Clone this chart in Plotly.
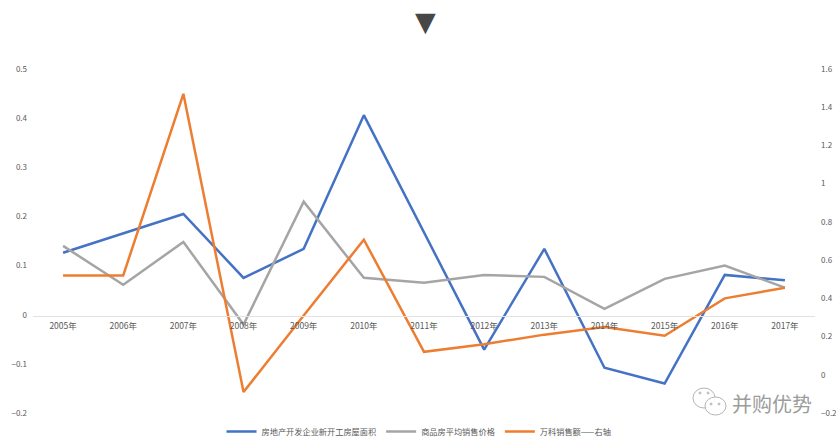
import plotly.graph_objects as go

W, H = 836, 437
years = ["2005年","2006年","2007年","2008年","2009年","2010年","2011年","2012年","2013年","2014年","2015年","2016年","2017年"]
new_area = [0.126,0.165,0.205,0.075,0.134,0.406,0.169,-0.071,0.134,-0.108,-0.140,0.081,0.070]
avg_price = [0.140,0.061,0.148,-0.020,0.230,0.075,0.065,0.081,0.077,0.012,0.073,0.100,0.055]
vanke_sales = [0.52,0.52,1.47,-0.09,0.31,0.707,0.12,0.16,0.21,0.25,0.204,0.40,0.455]
names = ["房地产开发企业新开工房屋面积","商品房平均销售价格","万科销售额——右轴"]
colors = ["#4472C4","#A5A5A5","#ED7D31"]
FONT = "Noto Sans CJK SC"
TICK = "#595959"

top, bottom, left, right = 69, 413, 33, 815
fig = go.Figure()
fig.add_trace(go.Scatter(x=years, y=new_area, name=names[0], mode="lines", line=dict(color=colors[0], width=2.5), yaxis="y"))
fig.add_trace(go.Scatter(x=years, y=avg_price, name=names[1], mode="lines", line=dict(color=colors[1], width=2.5), yaxis="y"))
fig.add_trace(go.Scatter(x=years, y=vanke_sales, name=names[2], mode="lines", line=dict(color=colors[2], width=2.5), yaxis="y2"))

fx = lambda p: p / W
fy = lambda p: 1 - p / H
zero_pos = fy(315.5)

def ellipse(cx, cy, rx, ry, line="#b5b5b5", fill="rgba(255,255,255,0.9)"):
    return dict(type="circle", xref="paper", yref="paper",
                x0=fx(cx - rx), x1=fx(cx + rx), y0=fy(cy + ry), y1=fy(cy - ry),
                line=dict(color=line, width=1), fillcolor=fill)

shapes = [ellipse(704, 398, 11, 10), ellipse(715.5, 406, 10.5, 9)]
for cx, cy in [(700, 393), (708, 393), (711, 404), (719, 404)]:
    shapes.append(ellipse(cx, cy, 1, 1, line="#bdbdbd", fill="#bdbdbd"))

fig.update_layout(
    width=W, height=H, autosize=False,
    margin=dict(l=0, r=0, t=0, b=0, autoexpand=False),
    paper_bgcolor="white", plot_bgcolor="white",
    font=dict(family=FONT, size=9, color=TICK),
    shapes=shapes,
    xaxis=dict(type="category", domain=[fx(left), fx(right)], anchor="free", position=zero_pos, automargin=False,
               range=[-0.5, 12.5], showgrid=False, showline=True, linecolor="#E2E2E2", linewidth=1,
               ticks="", tickfont=dict(size=8.5, color=TICK), ticklabelstandoff=2),
    yaxis=dict(domain=[fy(bottom), fy(top)], range=[-0.2, 0.5], dtick=0.1, tick0=0, showgrid=False, automargin=False,
               zeroline=False, showline=False, ticks="", tickfont=dict(size=8, color=TICK),
               tickformat="~g", anchor="free", position=fx(left), ticklabelstandoff=6),
    yaxis2=dict(domain=[fy(bottom), fy(top)], range=[-0.2, 1.6], dtick=0.2, tick0=0, overlaying="y", side="right", automargin=False,
                showgrid=False, zeroline=False, showline=False, ticks="", tickfont=dict(size=8, color=TICK),
                tickformat="~g", anchor="free", position=fx(right), ticklabelstandoff=5),
    legend=dict(orientation="h", x=fx(419), xanchor="center", y=fy(431.5), yanchor="middle",
                font=dict(size=8.2, color=TICK), bgcolor="rgba(0,0,0,0)", itemwidth=30, tracegroupgap=0),
    annotations=[
        dict(text="▼", xref="paper", yref="paper", x=fx(425), y=fy(21.5), showarrow=False,
             font=dict(size=27, color="#474747", family="DejaVu Sans"), xanchor="center", yanchor="middle"),
        dict(text="并购优势", xref="paper", yref="paper", x=fx(772), y=fy(403), showarrow=False,
             font=dict(size=20, color="#9c9c9c", family=FONT), xanchor="center", yanchor="middle"),
    ],
)
fig.write_html("out.html", config=dict(displayModeBar=False),
               post_script="document.body.style.margin='0';document.body.style.overflow='hidden';")
